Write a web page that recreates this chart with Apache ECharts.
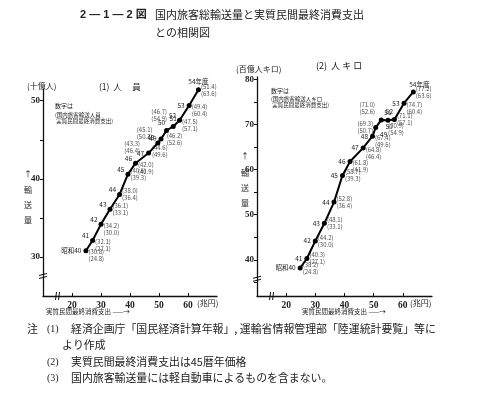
<!DOCTYPE html>
<html><head><meta charset="utf-8">
<script src="https://cdn.jsdelivr.net/npm/echarts@6/dist/echarts.min.js"></script>
<style>html,body{margin:0;padding:0;background:#fff}#c{width:483px;height:396px}</style>
</head><body><div id="c"></div>
<script>
// ---- data ----
const years = ['昭和40','41','42','43','44','45','46','47','48','49','50','51','52','53','54年度'];
const consumption = [24.8,27.1,30.0,33.1,36.4,39.3,41.9,46.4,49.6,50.7,52.6,54.9,57.1,60.4,63.6]; // 兆円
const passengers = [30.8,32.1,34.2,36.1,38.0,40.6,42.0,43.3,44.6,45.1,46.2,46.7,47.5,49.4,51.4]; // 十億人
const passengerKm = [38.2,40.3,44.2,48.1,52.8,58.7,61.8,64.8,67.4,69.3,71.0,70.9,71.1,74.7,77.2]; // 百億人キロ
const xTicks = [20,30,40,50,60];
const yTicksLeft = [30,40,50];
const yTicksRight = [40,50,60,70,80];

// ---- label placement (style only) ----
const place = {
  l:  {position:'left', distance:2, offset:[0,0]},
  lt: {position:'left', distance:1, offset:[0,-5]},
  r:  {position:'right', distance:2, offset:[0,0]},
  rb: {position:'right', distance:2, offset:[0,5]},
  t:  {position:'top', distance:2, offset:[0,0]},
  tl: {position:'top', distance:2, offset:[-5,0]},
  tr: {position:'top', distance:2, offset:[6,0]},
  b:  {position:'bottom', distance:1, offset:[2,0]},
  br: {position:'bottom', distance:1, offset:[8,0]},
  l2: {position:'left', distance:8, offset:[0,-6]},
  tl2:{position:'top', distance:2, offset:[-14,-2]}
};
const leftYearPlace  = ['l','lt','lt','lt','lt','lt','lt','l','lt','l','tl','t','lt','l','t'];
const leftValPlace   = ['rb','rb','rb','r','r','r','rb','l2','b','l2','br','tl2','rb','rb','r'];
const rightYearPlace = ['l','l','l','l','l','l','l','l','l','br','br','t','tl','l','tr'];
const rightValPlace  = ['r','r','r','r','r','r','rb','rb','rb','l','tl2','br','r','rb','r'];

const FONT = '"Noto Sans CJK JP", "Noto Sans", sans-serif';
const fmt = v => v.toFixed(1);

function lineData(ys, placeArr) {
  return consumption.map((c, i) => ({
    value: [c, ys[i]],
    label: Object.assign({show:true, formatter: years[i], fontSize:6.5, color:'#222', fontFamily:FONT}, place[placeArr[i]])
  }));
}
function valData(ys, placeArr) {
  return consumption.map((c, i) => ({
    value: [c, ys[i]],
    label: Object.assign({show:true, formatter: '(' + fmt(ys[i]) + ')\n(' + fmt(c) + ')', fontSize:6, lineHeight:7, color:'#222', fontFamily:FONT}, place[placeArr[i]])
  }));
}

function xAxis(gi) {
  return {
    type:'value', gridIndex:gi, min:10, max:70,
    axisLine:{show:true, lineStyle:{color:'#111', width:1.3}},
    axisTick:{show:true, inside:true, length:3, customValues:xTicks, lineStyle:{color:'#111'}},
    axisLabel:{customValues:xTicks, fontSize:9.5, color:'#222', fontFamily:'"Liberation Serif", serif', fontWeight:'bold', margin:5},
    splitLine:{show:false}
  };
}
function yAxis(gi, min, max, ticks, labels) {
  return {
    type:'value', gridIndex:gi, min:min, max:max,
    axisLine:{show:true, lineStyle:{color:'#111', width:1.3}},
    axisTick:{show:true, length:3, customValues:ticks, lineStyle:{color:'#111'}},
    axisLabel:{customValues:labels, fontSize:9, color:'#222', fontFamily:'"Liberation Serif", serif', fontWeight:'bold', margin:3},
    splitLine:{show:false}
  };
}

const chart = echarts.init(document.getElementById('c'), null, {renderer:'canvas'});

function txt(x, y, s, size, opts) {
  return Object.assign({type:'text', x:x, y:y, silent:true,
    style:Object.assign({text:s, fontSize:size, fill:'#222', fontFamily:FONT, verticalAlign:'middle'}, (opts||{}))});
}

const graphics = [
  txt(80, 15, '2 — 1 — 2 図', 11, {fontWeight:'bold', fontFamily:'"Liberation Sans", "Noto Sans CJK JP", sans-serif'}),
  txt(155, 15, '国内旅客総輸送量と実質民間最終消費支出', 11),
  txt(155, 33, 'との相関図', 11),
  txt(27, 86, '(十億人)', 8),
  txt(99, 87, '(1)  人　 員', 8.5),
  txt(55, 106, '数字は', 6),
  txt(55, 118, '(国内旅客輸送人員\n 実質民間最終消費支出)', 5.5, {lineHeight:6}),
  txt(236, 69, '(百億人キロ)', 8),
  txt(316, 66, '(2)  人 キ ロ', 9),
  txt(271, 91, '数字は', 6),
  txt(271, 102, '(国内旅客輸送人キロ\n 実質民間最終消費支出)', 5.5, {lineHeight:6}),
  txt(28, 174, '↑', 8, {align:'center'}),
  txt(28, 190, '輸', 8, {align:'center'}), txt(28, 205, '送', 8, {align:'center'}), txt(28, 220, '量', 8, {align:'center'}),
  txt(245, 156, '↑', 8, {align:'center'}),
  txt(245, 173, '輸', 8, {align:'center'}), txt(245, 188, '送', 8, {align:'center'}), txt(245, 203, '量', 8, {align:'center'}),
  txt(197, 303, '(兆円)', 8),
  txt(410, 303, '(兆円)', 8),
  txt(46, 312, '実質民間最終消費支出 ——→', 6.5),
  txt(302, 312, '実質民間最終消費支出 ——→', 6.5),
  txt(27, 329, '注', 11),
  txt(47, 329, '(1)', 10, {fontFamily:'"Liberation Serif", serif'}),
  txt(71, 329, '経済企画庁「国民経済計算年報」, 運輸省情報管理部「陸運統計要覧」等に', 10.9),
  txt(62, 345, 'より作成', 10.9),
  txt(47, 362, '(2)', 10, {fontFamily:'"Liberation Serif", serif'}),
  txt(71, 362, '実質民間最終消費支出は45暦年価格', 10.9),
  txt(47, 378, '(3)', 10, {fontFamily:'"Liberation Serif", serif'}),
  txt(71, 378, '国内旅客輸送量には軽自動車によるものを含まない。', 10.9)
];

chart.setOption({
  animation:false,
  backgroundColor:'#fff',
  grid:[
    {left:43, top:89, width:174, height:207},
    {left:257, top:77, width:175, height:219}
  ],
  xAxis:[xAxis(0), xAxis(1)],
  yAxis:[
    yAxis(0, 25, 51.5, [30,35,40,45,50], yTicksLeft),
    yAxis(1, 32, 80.5, [35,40,45,50,55,60,65,70,75,80], yTicksRight)
  ],
  series:[
    {type:'line', xAxisIndex:0, yAxisIndex:0, data:lineData(passengers, leftYearPlace),
     symbol:'circle', symbolSize:5, itemStyle:{color:'#000'}, lineStyle:{color:'#000', width:2}, clip:false, z:3},
    {type:'scatter', xAxisIndex:0, yAxisIndex:0, data:valData(passengers, leftValPlace),
     symbolSize:1, itemStyle:{color:'rgba(0,0,0,0)'}, clip:false},
    {type:'line', xAxisIndex:1, yAxisIndex:1, data:lineData(passengerKm, rightYearPlace),
     symbol:'circle', symbolSize:5, itemStyle:{color:'#000'}, lineStyle:{color:'#000', width:2}, clip:false, z:3},
    {type:'scatter', xAxisIndex:1, yAxisIndex:1, data:valData(passengerKm, rightValPlace),
     symbolSize:1, itemStyle:{color:'rgba(0,0,0,0)'}, clip:false}
  ],
  graphic:graphics
});

// axis break marks (decoration), positioned via axis scales
function breakMarks() {
  const out = [];
  const add = (gi, yv, xv) => {
    const py = chart.convertToPixel({gridIndex:gi}, [10, yv]);
    out.push({type:'rect', shape:{x:py[0]-3, y:py[1]-2, width:6, height:3}, style:{fill:'#fff'}, silent:true});
    out.push({type:'line', shape:{x1:py[0]-4, y1:py[1]-1, x2:py[0]+4, y2:py[1]-3}, style:{stroke:'#111', lineWidth:1}, silent:true});
    out.push({type:'line', shape:{x1:py[0]-4, y1:py[1]+2, x2:py[0]+4, y2:py[1]}, style:{stroke:'#111', lineWidth:1}, silent:true});
    const px = chart.convertToPixel({gridIndex:gi}, [xv, gi === 0 ? 25 : 32]);
    out.push({type:'rect', shape:{x:px[0]-2, y:px[1]-3, width:3, height:6}, style:{fill:'#fff'}, silent:true});
    out.push({type:'line', shape:{x1:px[0]-2, y1:px[1]+4, x2:px[0]-1, y2:px[1]-4}, style:{stroke:'#111', lineWidth:1}, silent:true});
    out.push({type:'line', shape:{x1:px[0]+1, y1:px[1]+4, x2:px[0]+2, y2:px[1]-4}, style:{stroke:'#111', lineWidth:1}, silent:true});
  };
  add(0, 27.5, 15);
  add(1, 35.7, 15);
  return out;
}
chart.setOption({graphic: graphics.concat(breakMarks())});
</script></body></html>
